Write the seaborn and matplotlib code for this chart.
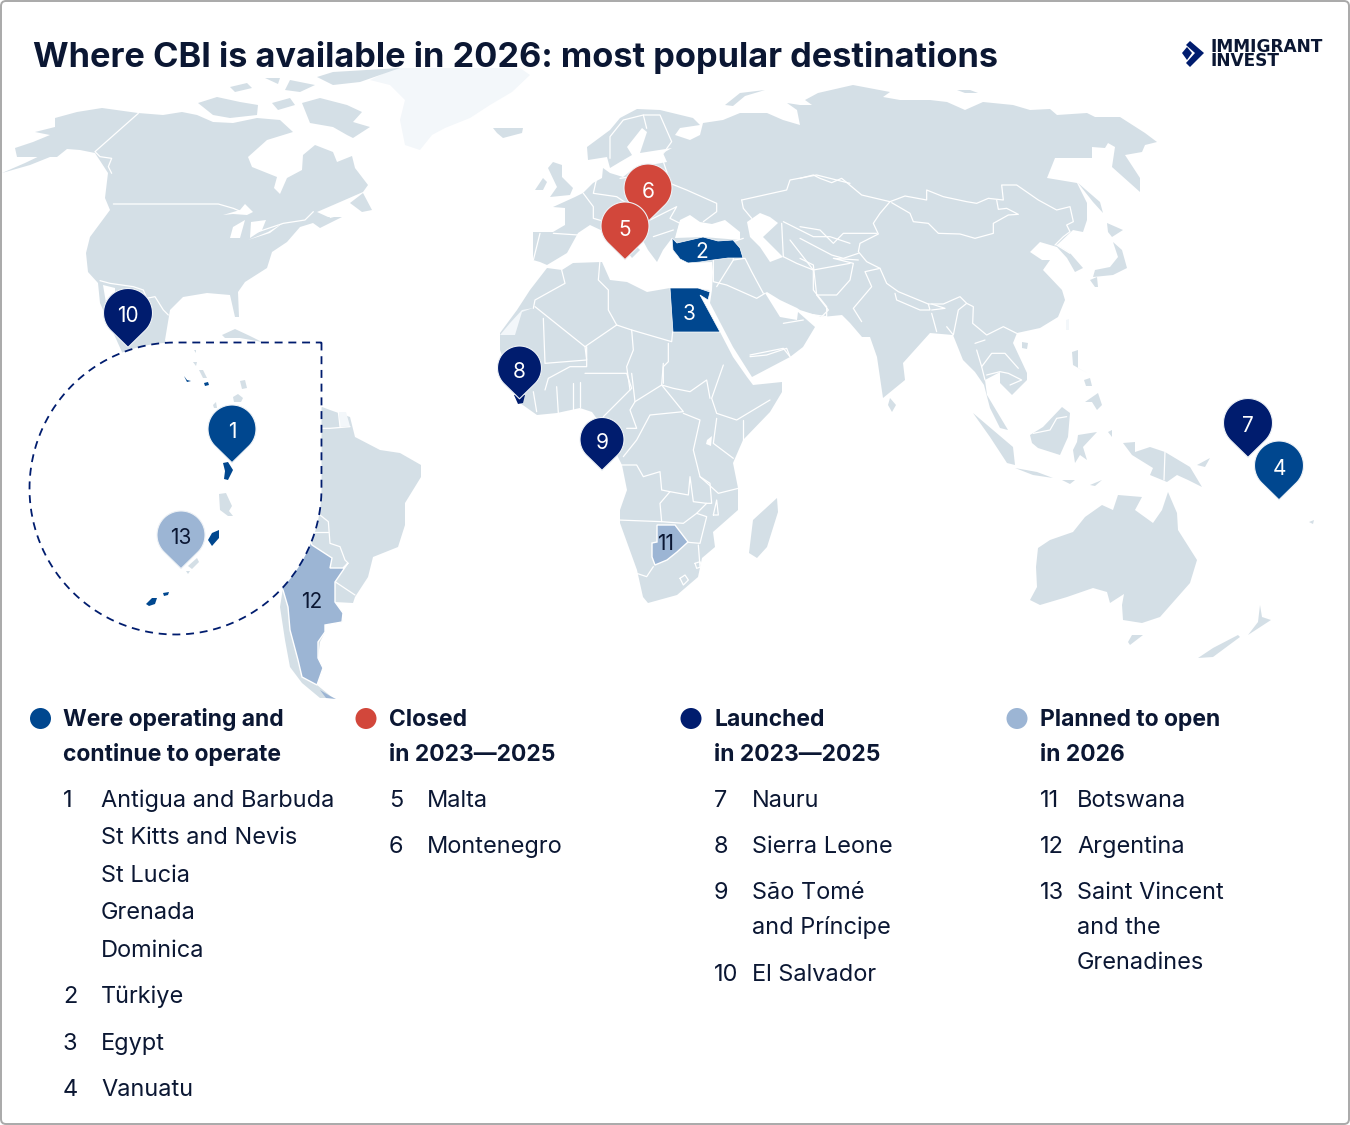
import numpy as np
import pandas as pd
import matplotlib
matplotlib.use("Agg")
import matplotlib.pyplot as plt
from matplotlib.path import Path
from matplotlib.patches import FancyBboxPatch
import seaborn as sns

sns.set_theme(style="white")
FONT = "Inter"
plt.rcParams["font.family"] = [FONT, "DejaVu Sans"]

LAND, PALE = "#d4dfe6", "#f3f7fa"
BLUE, RED, NAVY, SKY = "#00478f", "#d2473b", "#001c6e", "#9cb5d4"
INK = "#0b1733"
PALETTE = {"operating": BLUE, "closed": RED, "launched": NAVY, "planned": SKY}

# ---------- land outlines (picture pixels) ----------
north_america = [(17,157),(15,148),(33,142),(50,135),(35,132),(55,127),(55,118),(77,112),(102,108),(138,113),(163,115),(182,112),(197,115),(213,122),(233,123),(257,118),(280,120),(293,132),(267,140),(248,157),(252,167),(277,177),(274,188),(280,194),(287,178),(302,170),(303,155),(315,145),(333,152),(337,162),(352,156),(355,168),(368,185),(363,192),(347,199),(317,212),(328,217),(342,217),(320,228),(313,223),(300,227),(287,242),(272,252),(267,268),(245,282),(238,292),(239,317),(235,317),(230,295),(207,293),(183,297),(170,310),(165,340),(175,370),(130,370),(100,303),(98,283),(88,272),(86,253),(90,237),(110,210),(105,198),(108,173),(95,153),(80,150),(67,149),(57,157)]
aleutians = [(2,173),(25,163),(48,152),(55,155),(30,165)]
baffin = [(302,103),(320,98),(347,105),(362,112),(353,122),(370,127),(353,138),(347,135),(333,127),(310,123)]
victoria = [(198,103),(217,97),(240,102),(258,105),(257,115),(230,118),(213,115)]
ellesmere = [(317,77),(333,72),(400,68),(360,82),(333,85)]
arctic_small = [[(230,87),(247,83),(252,88),(235,92)], [(272,103),(290,98),(295,105),(278,110)], [(290,80),(315,85),(300,92),(285,90)], [(265,78),(280,78),(278,84)]]
newfoundland = [(350,203),(363,193),(372,210),(362,212)]
cuba = [(222,335),(235,329),(250,336),(262,342),(240,338),(225,338)]
greenland = [(370,80),(395,68),(520,68),(530,75),(512,92),(490,105),(470,118),(445,128),(432,135),(420,150),(405,145),(400,120),(405,100),(390,85)]
south_america = [(322,407),(330,410),(350,417),(355,437),(380,450),(400,453),(421,465),(421,477),(405,503),(405,525),(398,547),(373,557),(368,577),(355,597),(353,603),(335,602),(343,613),(342,622),(325,625),(325,632),(320,642),(318,658),(323,668),(317,685),(333,698),(320,698),(302,683),(290,667),(285,640),(280,607),(283,588),(270,540),(300,420)]
argentina = [(275,580),(305,530),(312,545),(332,558),(330,568),(343,568),(348,563),(335,582),(335,602),(343,613),(342,622),(325,625),(325,632),(318,642),(318,658),(323,668),(317,685),(302,677),(298,660),(290,630),(288,607),(283,590)]
tierra = [(320,690),(330,696),(336,699),(326,698)]
french_guiana = [(339,412),(346,412),(350,426),(340,427)]
africa = [(547,268),(562,270),(573,263),(602,262),(610,280),(627,282),(647,292),(670,288),(710,290),(700,295),(720,332),(733,357),(747,377),(753,385),(782,382),(782,392),(770,412),(743,440),(733,463),(738,488),(738,510),(713,532),(715,547),(702,558),(698,577),(677,595),(648,603),(643,597),(637,570),(620,523),(620,510),(627,490),(622,465),(618,457),(605,430),(592,412),(580,408),(557,413),(537,415),(520,403),(500,350),(500,333),(517,310),(530,290)]
madagascar = [(777,498),(778,512),(767,547),(757,558),(749,553),(753,520)]
western_sahara = [(500,335),(515,335),(522,312),(533,308),(522,310),(510,323)]
eurasia = [(533,232),(553,232),(565,225),(565,208),(553,207),(575,197),(583,193),(593,183),(602,178),(603,168),(610,173),(623,177),(632,170),(650,165),(667,162),(663,153),(672,148),(640,153),(647,132),(642,128),(627,147),(632,155),(620,162),(610,168),(607,157),(588,160),(587,147),(610,130),(620,118),(637,109),(660,110),(693,118),(700,125),(680,128),(675,135),(690,140),(700,135),(703,123),(723,120),(740,113),(767,113),(783,120),(800,125),(797,110),(787,103),(800,105),(812,105),(805,100),(818,93),(853,85),(890,92),(883,97),(900,100),(930,100),(947,102),(965,110),(983,102),(1013,105),(1030,110),(1050,109),(1057,115),(1087,113),(1095,117),(1120,117),(1145,133),(1157,142),(1145,145),(1142,152),(1125,155),(1140,178),(1140,192),(1112,167),(1115,147),(1108,143),(1105,148),(1092,147),(1092,158),(1055,158),(1047,178),(1077,183),(1087,203),(1087,220),(1083,232),(1073,230),(1057,245),(1070,253),(1083,268),(1075,272),(1067,258),(1057,247),(1040,242),(1030,252),(1042,260),(1050,260),(1043,270),(1062,290),(1065,300),(1058,317),(1040,328),(1017,333),(1013,343),(1027,373),(1027,380),(1012,395),(1000,383),(1000,372),(985,380),(987,395),(1008,430),(1000,428),(990,408),(984,385),(975,372),(963,360),(953,335),(930,333),(903,363),(905,380),(883,398),(877,357),(870,337),(862,337),(850,323),(842,315),(822,317),(800,310),(797,308),(780,300),(767,292),(765,293),(780,317),(797,320),(798,312),(815,327),(803,347),(790,357),(752,377),(733,347),(710,303),(712,290),(713,272),(712,262),(688,263),(677,255),(673,250),(672,238),(663,250),(657,262),(648,250),(640,235),(620,215),(612,218),(625,235),(640,250),(632,258),(622,245),(605,232),(590,225),(578,233),(567,253),(547,265),(540,262),(533,260)]
islands = [
 [(553,162),(562,165),(562,177),(573,188),(570,195),(550,197),(557,187),(548,168)],
 [(535,190),(543,178),(547,182),(543,190)],
 [(493,128),(523,128),(522,133),(503,138),(497,133)],
 [(725,105),(740,93),(765,90),(745,96),(733,106)],
 [(957,90),(970,90),(978,93),(965,93)],
 [(1107,223),(1123,230),(1112,237),(1108,232)],
 [(1113,242),(1122,250),(1127,268),(1113,275),(1093,277),(1095,270),(1110,267),(1118,257)],
 [(1090,280),(1097,277),(1098,287),(1095,287)],
 [(1078,183),(1100,202),(1103,213),(1093,202)],
 [(1022,342),(1028,343),(1027,349),(1022,348)],
 [(890,398),(896,405),(892,412),(888,405)],
 [(1072,352),(1078,350),(1078,368),(1087,373),(1073,365)],
 [(1085,402),(1098,393),(1102,405),(1097,410),(1092,402)],
 [(1084,380),(1090,378),(1092,386),(1086,386)],
 [(973,413),(993,430),(1013,447),(1015,465),(1007,463),(990,437)],
 [(1030,435),(1043,427),(1062,407),(1070,413),(1068,437),(1060,455),(1038,448),(1032,443)],
 [(1015,468),(1037,472),(1053,478),(1033,475)],
 [(1078,435),(1097,432),(1083,447),(1087,460),(1080,455),(1075,463),(1073,450),(1077,442)],
 [(1123,443),(1135,442),(1135,452),(1150,447),(1165,452),(1190,467),(1202,487),(1188,480),(1177,475),(1167,482),(1150,475),(1153,468),(1132,455)],
 [(1090,485),(1102,480),(1095,486)],
 [(1062,480),(1075,480),(1070,484)],
 [(1197,465),(1210,458),(1205,467)],
 [(1108,432),(1112,430),(1112,437)],
 [(1030,600),(1037,587),(1036,567),(1038,548),(1050,540),(1073,532),(1085,517),(1102,505),(1113,510),(1118,495),(1142,497),(1135,510),(1153,523),(1162,510),(1168,492),(1177,513),(1178,530),(1197,560),(1190,583),(1160,617),(1142,623),(1123,620),(1122,605),(1124,594),(1110,603),(1107,592),(1093,588),(1067,597),(1040,605)],
 [(1132,635),(1143,635),(1130,645),(1128,642)],
 [(1260,605),(1262,617),(1271,620),(1248,635),(1258,622)],
 [(1238,635),(1240,637),(1213,657),(1198,658),(1213,648)],
 [(1309,522),(1314,520),(1313,524)],
]
pale_islands = [[(1066,320),(1069,319),(1069,330),(1066,330)]]
water = [
 [(675,238),(680,220),(690,215),(700,222),(712,224),(725,220),(740,232),(740,240),(703,237)],
 [(747,222),(760,213),(770,217),(778,223),(763,237),(783,257),(770,262),(760,247),(750,237)],
 [(223,215),(240,210),(245,204),(253,212),(247,215),(233,214)],
 [(230,238),(233,227),(245,220),(240,238)],
 [(251,222),(266,220),(262,230),(250,238)],
 [(248,240),(268,232),(283,223),(270,233)],
 [(327,212),(336,205),(342,215),(330,218)],
 [(707,440),(712,436),(711,446),(706,444)],
 [(103,285),(115,288),(115,305),(106,303)],
]
turkey = [(672,238),(677,243),(690,240),(703,237),(718,241),(733,240),(740,248),(743,258),(728,258),(713,260),(700,262),(688,263),(680,259),(677,255),(673,250)]
egypt = [(670,288),(698,288),(710,292),(708,300),(700,295),(720,332),(673,332)]
botswana = [(657,525),(675,525),(688,542),(677,552),(667,560),(655,565),(652,557),(652,543),(657,542)]
sierra_leone = [(514,395),(525,395),(523,403),(518,404)]
inset_light = [
 [(240,381),(245,380),(247,388),(242,389)], [(233,397),(238,394),(243,398),(241,402),(234,402)],
 [(213,405),(216,402),(217,408),(214,408)], [(199,370),(203,370),(207,378),(203,378)],
 [(219,494),(226,493),(232,506),(229,511),(233,516),(228,516),(220,510)],
 [(188,566),(197,558),(199,562),(192,569)], [(186,571),(190,571),(188,574)],
 [(194,350),(196,350),(196,353)], [(193,362),(197,362),(196,366)],
]
inset_blue = [
 [(184,376),(187,380),(191,381),(187,382)], [(204,383),(208,382),(209,385),(205,386)],
 [(223,463),(228,462),(233,470),(228,480),(224,479),(225,471)],
 [(208,540),(212,533),(219,530),(219,538),(212,546)],
 [(146,604),(152,598),(157,598),(155,604),(149,606)], [(163,593),(169,592),(168,595),(164,596)],
]

# ---------- borders: (crop left, crop top, points in 3x-zoom pixels) ----------
borders = [
 (0,60,[(415,160),(285,275),(300,290),(335,295),(325,320),(335,340)]),
 (0,60,[(340,432),(655,432),(700,445),(740,462)]),
 (0,60,[(760,520),(850,490),(915,480),(940,455)]),
 (0,60,[(300,662),(330,670),(400,680),(430,690),(440,715),(465,710),(490,750),(505,765)]),
 (0,330,[(965,295),(990,295),(1050,290)]),(0,330,[(1015,245),(1020,290)]),
 (0,330,[(960,555),(985,575),(990,640),(1020,650),(1035,690),(1045,700)]),
 (0,330,[(940,605),(985,605)]),(0,330,[(1005,755),(1065,795)]),
 (450,90,[(270,430),(250,510)]),(450,90,[(310,430),(385,435)]),
 (450,90,[(400,310),(430,350),(430,385),(465,395)]),(450,90,[(440,265),(430,310),(500,320),(530,340)]),
 (450,90,[(510,265),(650,245),(660,280),(710,300),(800,340),(800,365),(760,395)]),
 (450,90,[(480,205),(480,140),(520,90),(580,75),(630,75),(665,155),(640,190)]),
 (450,90,[(580,75),(590,115)]),(450,90,[(640,215),(650,245)]),
 (450,90,[(600,390),(680,350),(660,385),(690,400),(680,440)]),(450,90,[(610,440),(670,420)]),
 (450,90,[(875,330),(880,355),(905,385)]),(450,90,[(875,330),(1010,300),(1020,270),(1100,255),(1200,280)]),
 (450,90,[(880,445),(850,455),(850,510),(885,505),(905,545),(940,610)]),
 (450,90,[(790,510),(790,575),(830,585),(920,625),(945,610)]),(450,90,[(800,590),(850,510)]),
 (450,90,[(1000,500),(1040,520),(1090,540),(1090,600),(1130,650),(1130,680),(1060,670)]),
 (450,90,[(1000,395),(1090,440),(1140,440),(1200,460)]),(450,90,[(995,400),(1000,500)]),
 (450,90,[(1020,450),(1090,540),(1200,520)]),(450,90,[(900,795),(1000,775),(1020,800)]),
 (450,90,[(1000,700),(1060,690)]),
 (800,80,[(0,295),(40,285),(60,295),(95,308),(125,295),(185,345),(270,365),(315,348),(380,360),(380,330),(430,350),(500,365),(530,370),(565,355),(610,360),(605,315),(650,315),(715,360),(770,390),(810,380),(820,425),(800,435),(810,455),(790,470),(765,495)]),
 (800,80,[(275,368),(330,400),(340,425),(385,430),(415,460),(480,462),(525,475),(580,460),(580,430),(625,405),(655,403),(620,385),(595,388),(590,360)]),
 (800,80,[(270,365),(240,400),(220,430),(235,462),(180,490),(175,515),(200,545),(240,565),(260,610),(295,635),(385,672),(430,672),(480,650),(500,670),(520,680),(518,730),(560,765),(610,740),(650,760)]),
 (800,80,[(240,565),(195,575),(215,620),(160,685),(185,725)]),
 (800,80,[(0,535),(40,555),(50,645),(110,645),(150,600),(160,550),(100,535),(175,540)]),
 (800,80,[(50,645),(85,690),(65,710)]),(800,80,[(285,640),(290,660),(360,690),(390,690),(385,672)]),
 (800,80,[(0,440),(60,450),(100,490),(130,460),(230,460)]),(800,80,[(0,475),(95,525),(130,535),(175,520)]),
 (800,80,[(395,690),(435,685),(395,672)]),(800,80,[(395,700),(410,755)]),(800,80,[(440,740),(460,765),(475,690),(500,670)]),
 (800,80,[(770,495),(810,520)]),
 (950,340,[(80,30),(95,80),(125,40),(165,40),(205,85)]),(950,340,[(110,105),(150,95),(175,100),(215,120),(180,135)]),
 (950,340,[(75,10),(105,0)]),(950,340,[(95,80),(105,120)]),(950,340,[(250,280),(300,270),(320,235),(350,230)]),
 (950,340,[(645,335),(642,420)]),
 (450,90,[(335,540),(345,580),(255,630),(250,655)]),(450,90,[(255,650),(405,770),(410,810),(285,820),(280,685)]),
 (450,90,[(405,770),(500,705),(545,720)]),(450,90,[(450,510),(445,570),(475,600),(475,660),(500,705)]),
 (450,90,[(545,720),(665,755),(668,725)]),(450,90,[(655,760),(655,815),(640,830),(640,880)]),
 (450,90,[(545,720),(550,780),(530,830),(540,900)]),
 (480,340,[(315,100),(440,100),(455,145),(370,230)]),(480,340,[(320,20),(320,80),(270,80),(205,115),(195,150)]),
 (480,340,[(280,130),(280,210)]),(480,340,[(300,125),(300,200)]),(480,340,[(230,140),(235,220)]),(480,340,[(160,155),(170,215)]),
 (480,340,[(455,100),(465,185),(450,210),(470,265),(440,265)]),
 (480,340,[(465,185),(545,135),(610,215),(510,225),(470,300),(430,350)]),
 (480,340,[(610,220),(660,240),(640,330),(660,410),(690,430),(695,490),(680,490),(640,485),(630,410),(625,465),(570,455),(545,450),(540,395),(490,410),(470,375),(425,375)]),
 (480,340,[(415,540),(545,545),(540,490),(570,455)]),(480,340,[(545,545),(610,550),(650,520),(680,530),(660,610),(625,607)]),
 (480,340,[(650,520),(680,490)]),(480,340,[(470,700),(500,710),(520,680)]),
 (480,340,[(550,70),(545,135),(580,145),(630,155),(680,120),(690,175)]),
 (480,340,[(730,75),(695,175),(710,220),(770,240),(870,180)]),(480,340,[(790,240),(790,300)]),
 (480,340,[(710,235),(700,310),(760,355)]),(480,340,[(660,410),(715,460),(775,445)]),
 (480,340,[(655,615),(660,680)]),(480,340,[(700,525),(710,480),(715,525),(700,525)]),
 (480,340,[(600,715),(615,705),(625,720),(610,735),(600,715)]),(480,340,[(645,670),(660,665),(665,680),(650,685),(645,670)]),
 (480,340,[(810,50),(860,45),(920,25),(930,50)]),
]

# ---------- pins ----------
pin_no = ["1", "13", "10", "8", "9", "7", "4", "6", "5"]
pin_x = [232, 181, 128, 519.5, 602, 1248, 1279, 648, 625]
pin_y = [429, 535, 313, 368, 439.5, 423, 465.5, 188, 226]
pin_r = [24, 24, 24.5, 22, 22, 24.5, 24.5, 24, 24]
pin_group = ["operating", "planned", "launched", "launched", "launched", "launched", "operating", "closed", "closed"]
country_no = ["2", "3", "11", "12"]
country_x = [702, 689, 666, 312]
country_y = [250, 312, 542, 600]
country_col = ["white", "white", INK, INK]

# ---------- legend content ----------
group_keys = ["operating", "closed", "launched", "planned"]
group_dot_x = [40.5, 366, 691, 1017]
group_text_x = [63, 389, 714, 1040]
group_heads = [["Were operating and", "continue to operate"], ["Closed", "in 2023—2025"], ["Launched", "in 2023—2025"], ["Planned to open", "in 2026"]]
head_y = [726, 761]
item_no = [["1", "", "", "", "", "2", "3", "4"], ["5", "6"], ["7", "8", "9", "", "10"], ["11", "12", "13", "", ""]]
item_txt = [["Antigua and Barbuda", "St Kitts and Nevis", "St Lucia", "Grenada", "Dominica", "Türkiye", "Egypt", "Vanuatu"],
            ["Malta", "Montenegro"],
            ["Nauru", "Sierra Leone", "São Tomé", "and Príncipe", "El Salvador"],
            ["Botswana", "Argentina", "Saint Vincent", "and the", "Grenadines"]]
item_y = [[807, 844, 882, 919, 957, 1003, 1050, 1096], [807, 853], [807, 853, 899, 934, 981], [807, 853, 899, 934, 969]]
TITLE = "Where CBI is available in 2026: most popular destinations"
LOGO_TEXT = "IMMIGRANT\nINVEST"

fig = plt.figure(figsize=(13.5, 11.25), dpi=100, facecolor="white")
ax = fig.add_axes([0, 0, 1, 1])

def fit(text, width_px, **kw):
    """Font size at which the text spans width_px."""
    tmp = fig.text(0, 0, text, fontsize=20, **kw)
    w = tmp.get_window_extent(fig.canvas.get_renderer()).width
    tmp.remove()
    return 20 * width_px / w

TITLE_SIZE = fit(TITLE, 968, fontweight="bold")
HEAD_SIZE = fit("continue to operate", 219, fontweight="bold")
BODY_SIZE = fit("Antigua and Barbuda", 233)
LOGO_SIZE = fit("IMMIGRANT", 112, fontweight="bold", family="DejaVu Sans")

def fill(pts, color, z=1, edge="none", lw=0):
    a = np.array(pts, float)
    ax.fill(a[:, 0], a[:, 1], facecolor=color, edgecolor=edge, linewidth=lw, zorder=z)

fill(greenland, PALE)
for shape in [north_america, aleutians, baffin, victoria, ellesmere, newfoundland, cuba, south_america, africa, madagascar, eurasia] + arctic_small + islands:
    fill(shape, LAND, 2)
for shape in pale_islands + [french_guiana, western_sahara]:
    fill(shape, PALE, 2.5)
for shape in water:
    fill(shape, "white", 3)
for x0, y0, pts in borders:
    a = np.array(pts, float)
    ax.plot(x0 + a[:, 0] / 3, y0 + a[:, 1] / 3, color="white", lw=0.9, zorder=3, solid_joinstyle="round")
fill(argentina, SKY, 4, "white", 1)
fill(tierra, SKY, 4)
fill(turkey, BLUE, 4, "white", 0.5)
fill(egypt, BLUE, 4, "white", 0.5)
fill(botswana, SKY, 4, "white", 1)
fill(sierra_leone, NAVY, 4)

t = np.linspace(0, 1.5 * np.pi, 240)
ix = np.r_[321.5, 321.5, 175.5 + 146 * np.cos(t), 321.5]
iy = np.r_[342.5, 488.5, 488.5 + 146 * np.sin(t), 342.5]
ax.fill(ix, iy, facecolor="white", edgecolor="none", zorder=5)
ax.plot(ix, iy, color=NAVY, lw=1.3, dashes=(4.4, 3.2), zorder=6)
for shape in inset_light:
    fill(shape, LAND, 6)
for shape in inset_blue:
    fill(shape, BLUE, 6)

th = np.linspace(-np.pi / 2 + np.arccos(1 / 1.4), 1.5 * np.pi - np.arccos(1 / 1.4), 90)
pv = np.vstack([[0, -1.4], np.c_[np.cos(th), np.sin(th)], [0, -1.4]])
PIN = Path(pv, closed=True)

pins = pd.DataFrame({"x": pin_x, "y": pin_y, "r": pin_r, "group": pin_group})
sizes = {r: (2.016 * r) ** 2 for r in set(pin_r)}
sns.scatterplot(data=pins, x="x", y="y", hue="group", size="r", sizes=sizes, palette=PALETTE, marker=PIN,
                edgecolor="#eef2f6", linewidth=0.8, legend=False, ax=ax, zorder=7)
for n, x, y, g in zip(pin_no, pin_x, pin_y, pin_group):
    ax.text(x, y + 3.5, n, color=INK if g == "planned" else "white", fontsize=15, ha="center", va="center", zorder=8)
for n, x, y, c in zip(country_no, country_x, country_y, country_col):
    ax.text(x, y + 2, n, color=c, fontsize=15, ha="center", va="center", zorder=8)

dots = pd.DataFrame({"x": group_dot_x, "y": [718.5] * 4, "group": group_keys})
sns.scatterplot(data=dots, x="x", y="y", hue="group", palette=PALETTE, s=(21 * 0.72) ** 2, linewidth=0, legend=False, ax=ax, zorder=7)
for tx, heads, nos, txts, ys in zip(group_text_x, group_heads, item_no, item_txt, item_y):
    for line, y in zip(heads, head_y):
        ax.text(tx, y, line, color=INK, fontsize=HEAD_SIZE, fontweight="bold", ha="left", va="baseline")
    for n, s, y in zip(nos, txts, ys):
        ax.text(tx, y, n, color=INK, fontsize=BODY_SIZE, ha="left", va="baseline")
        ax.text(tx + 38 - (1 if tx > 1000 else 0), y, s, color=INK, fontsize=BODY_SIZE, ha="left", va="baseline")

ax.text(33, 67.5, TITLE, color=INK, fontsize=TITLE_SIZE, fontweight="bold", ha="left", va="baseline", zorder=9)

fill([(1190,41),(1204,53),(1190,67),(1186,63),(1195,53),(1186,45)], NAVY, 9)
fill([(1187,47),(1192,53),(1187,60),(1182,53)], NAVY, 9)
ax.text(1210, 66.5, LOGO_TEXT, color=INK, fontsize=LOGO_SIZE, fontweight="bold", family="DejaVu Sans",
        ha="left", va="baseline", linespacing=0.74)

ax.add_patch(FancyBboxPatch((1, 1), 1348, 1123, boxstyle="round,pad=0,rounding_size=5", fill=False, edgecolor="#a9a9a9", linewidth=1.4, zorder=10))
ax.set_xlim(0, 1350)
ax.set_ylim(1125, 0)
ax.set_axis_off()
fig.savefig("out.png", dpi=100)
